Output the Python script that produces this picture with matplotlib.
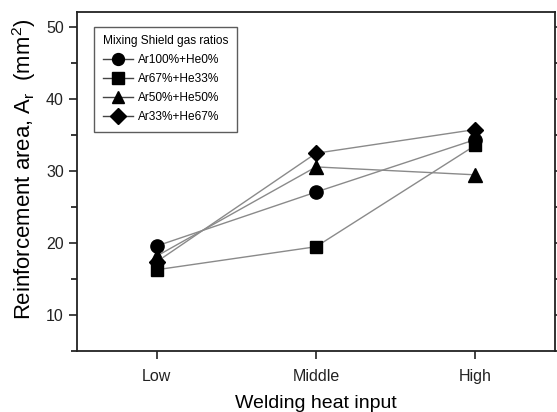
import matplotlib
matplotlib.use("Agg")
import matplotlib.pyplot as plt
from matplotlib.ticker import MultipleLocator

plt.rcParams['font.family'] = ['Liberation Sans', 'DejaVu Sans']
plt.rcParams['mathtext.fontset'] = 'custom'
plt.rcParams['mathtext.rm'] = 'Liberation Sans'
plt.rcParams['mathtext.it'] = 'Liberation Sans:italic'

categories = ["Low", "Middle", "High"]
series_labels = ["Ar100%+He0%", "Ar67%+He33%", "Ar50%+He50%", "Ar33%+He67%"]
ar100_he0 = [19.6, 27.1, 34.4]
ar67_he33 = [16.3, 19.5, 33.6]
ar50_he50 = [18.2, 30.6, 29.5]
ar33_he67 = [17.4, 32.5, 35.8]
y_ticks = [10, 20, 30, 40, 50]

series = [ar100_he0, ar67_he33, ar50_he50, ar33_he67]
markers = ['o', 's', '^', 'D']
msizes = [9.5, 9, 10, 8.5]

fig = plt.figure(figsize=(5.57, 4.12), dpi=100)
ax = fig.add_axes([77/557, 1-351/412, (555-77)/557, (351-12.3)/412])

x = list(range(len(categories)))
for vals, m, ms, lab in zip(series, markers, msizes, series_labels):
    ax.plot(x, vals, color='#8a8a8a', lw=1.0, marker=m, ms=ms,
            mfc='black', mec='black', label=lab, zorder=3)

ax.set_xlim(-0.5, 2.5)
ax.set_ylim(5, 52.1)
ax.set_xticks(x)
ax.set_xticklabels(categories)
ax.set_yticks(y_ticks)
ax.yaxis.set_minor_locator(MultipleLocator(5))

for s in ax.spines.values():
    s.set_linewidth(1.3)
    s.set_color('#222222')

ax.tick_params(axis='both', which='major', labelsize=11.5, direction='out',
               length=6, width=1.2, colors='#222222', labelcolor='#222222')
ax.tick_params(axis='x', which='major', pad=7)
ax.tick_params(axis='y', which='minor', direction='out', length=4, width=1.1)
ax.tick_params(axis='y', which='both', right=True)

ax.set_xlabel("Welding heat input", fontsize=14, labelpad=8)
ax.set_ylabel(r"Reinforcement area, A$_{\rm r}$  (mm$^{2}$)", fontsize=15.9)
ax.yaxis.set_label_coords(-0.082, 0.537)

leg = ax.legend(title="Mixing Shield gas ratios", loc='upper left',
                bbox_to_anchor=(0.036, 0.957), borderaxespad=0,
                fontsize=8.6, title_fontsize=8.6, frameon=True, fancybox=False,
                edgecolor='#333333', handlelength=2.55, labelspacing=0.58,
                borderpad=0.72, handletextpad=0.4, markerscale=0.9)
leg.get_frame().set_linewidth(1.0)
leg._legend_box.align = "left"
for line in leg.get_lines():
    line.set_color('#444444')
    line.set_markerfacecolor('black')

fig.savefig("out.png", dpi=100)
